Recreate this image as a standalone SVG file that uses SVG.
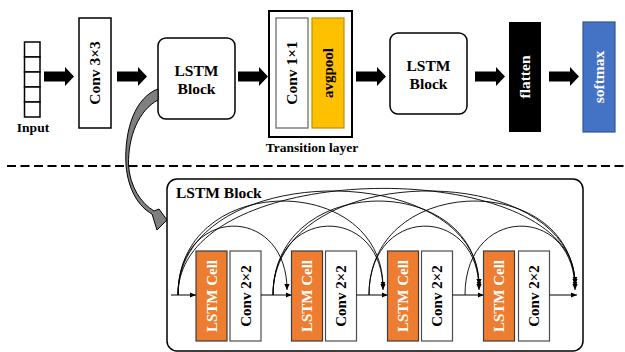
<svg xmlns="http://www.w3.org/2000/svg" width="625" height="352" viewBox="0 0 625 352">
  <style>
    .lbl { font-family: "Liberation Serif", "Times New Roman", serif; font-weight: bold; }
    .box { fill: #ffffff; stroke: #000000; stroke-width: 1.5; }
    .grey { fill: #ffffff; stroke: #6f6f6f; stroke-width: 1.3; }
    .cell { fill: #ED7D31; stroke: #3d3d3d; stroke-width: 1.2; }
    .conv { fill: #ffffff; stroke: #4d4d4d; stroke-width: 1.2; }
    .big { fill: #000000; }
    .wire { fill: none; stroke: #000000; stroke-width: 1; }
    .skip { fill: none; stroke: #000000; stroke-width: 0.9; marker-end: url(#tip); }
  </style>
  <defs>
    <marker id="tip" markerUnits="userSpaceOnUse" markerWidth="7" markerHeight="6" refX="6" refY="3" orient="auto">
      <path d="M0 0.4 L6 3 L0 5.6 Z" fill="#000000"/>
    </marker>
    <polygon id="fat" points="0,-5 21,-5 21,-9.5 30,0 21,9.5 21,5 0,5"/>
  </defs>
  <rect width="625" height="352" fill="#ffffff"/>

  <!-- top pipeline -->
  <g id="input">
    <rect class="box" x="24.5" y="42" width="15.5" height="15" stroke-width="1.2"/>
    <rect class="box" x="24.5" y="57" width="15.5" height="15" stroke-width="1.2"/>
    <rect class="box" x="24.5" y="72" width="15.5" height="15" stroke-width="1.2"/>
    <rect class="box" x="24.5" y="87" width="15.5" height="15" stroke-width="1.2"/>
    <rect class="box" x="24.5" y="102" width="15.5" height="15" stroke-width="1.2"/>
    <text class="lbl" x="33" y="132" font-size="13.5" text-anchor="middle">Input</text>
  </g>
  <g id="conv3x3">
    <rect class="box" x="79" y="18" width="32" height="110"/>
    <text class="lbl" transform="translate(95,73) rotate(-90)" dy="0.35em" font-size="15.5" text-anchor="middle">Conv 3×3</text>
  </g>
  <g id="lstm-block-1">
    <rect class="box" x="158" y="38" width="77" height="81" rx="8"/>
    <text class="lbl" x="196.5" y="76" font-size="15.5" text-anchor="middle">LSTM</text>
    <text class="lbl" x="196.5" y="94" font-size="15.5" text-anchor="middle">Block</text>
  </g>
  <g id="transition">
    <rect x="269" y="11" width="83" height="126" fill="#ffffff" stroke="#000000" stroke-width="2"/>
    <rect class="grey" x="276" y="18" width="32" height="110"/>
    <text class="lbl" transform="translate(292,73) rotate(-90)" dy="0.35em" font-size="15.5" text-anchor="middle">Conv 1×1</text>
    <rect x="312" y="18" width="32" height="110" fill="#FFC000" stroke="#BF9000" stroke-width="1.2"/>
    <text class="lbl" transform="translate(328,73) rotate(-90)" dy="0.35em" font-size="15" text-anchor="middle">avgpool</text>
    <text class="lbl" x="312" y="152" font-size="13.5" text-anchor="middle">Transition layer</text>
  </g>
  <g id="lstm-block-2">
    <rect class="box" x="390" y="33" width="77" height="81" rx="8"/>
    <text class="lbl" x="428.5" y="71" font-size="15.5" text-anchor="middle">LSTM</text>
    <text class="lbl" x="428.5" y="89" font-size="15.5" text-anchor="middle">Block</text>
  </g>
  <g id="flatten">
    <rect x="509" y="22" width="32" height="110" fill="#000000"/>
    <text class="lbl" transform="translate(525,77) rotate(-90)" dy="0.35em" font-size="15.5" text-anchor="middle" fill="#ffffff">flatten</text>
  </g>
  <g id="softmax">
    <rect x="583" y="22" width="32" height="110" fill="#4472C4" stroke="#2F5597" stroke-width="1.2"/>
    <text class="lbl" transform="translate(599,77) rotate(-90)" dy="0.35em" font-size="15.5" text-anchor="middle" fill="#ffffff">softmax</text>
  </g>

  <g id="pipeline-arrows" class="big">
    <use href="#fat" x="44" y="76.5"/>
    <use href="#fat" x="117" y="76.5"/>
    <use href="#fat" x="238" y="76.5"/>
    <use href="#fat" x="356" y="76.5"/>
    <use href="#fat" x="475" y="76.5"/>
    <use href="#fat" x="549" y="76.5"/>
  </g>

  <!-- separator -->
  <line x1="7" y1="166" x2="625" y2="166" stroke="#000000" stroke-width="2" stroke-dasharray="9 4.5"/>

  <!-- expanded block -->
  <g id="lstm-block-detail">
    <rect x="167" y="179" width="416" height="172" rx="10" fill="#ffffff" stroke="#000000" stroke-width="1.5"/>
    <text class="lbl" x="176" y="197.5" font-size="15.5">LSTM Block</text>
  </g>

  <!-- callout from the block to its expansion -->
  <g id="callout">
    <path d="M158 89 C136 97 124 128 126 165 C128 190 139 207 152 214 L157 230 L167 220 L159 209 L154 211 C141 203 130 187 128.5 165 C128 136 139 110 158 100 Z" fill="#7f7f7f" stroke="#000000" stroke-width="1"/>
  </g>

  <g id="cell-1">
    <rect class="cell" x="196" y="251" width="31" height="90"/>
    <text class="lbl" transform="translate(211.5,296) rotate(-90)" dy="0.35em" font-size="15" text-anchor="middle" fill="#ffffff">LSTM Cell</text>
    <rect class="conv" x="230" y="251" width="31" height="90"/>
    <text class="lbl" transform="translate(245.5,296) rotate(-90)" dy="0.35em" font-size="15" text-anchor="middle">Conv 2×2</text>
  </g>
  <g id="cell-2">
    <rect class="cell" x="291.5" y="251" width="31" height="90"/>
    <text class="lbl" transform="translate(307,296) rotate(-90)" dy="0.35em" font-size="15" text-anchor="middle" fill="#ffffff">LSTM Cell</text>
    <rect class="conv" x="325.5" y="251" width="31" height="90"/>
    <text class="lbl" transform="translate(341,296) rotate(-90)" dy="0.35em" font-size="15" text-anchor="middle">Conv 2×2</text>
  </g>
  <g id="cell-3">
    <rect class="cell" x="387.5" y="251" width="31" height="90"/>
    <text class="lbl" transform="translate(403,296) rotate(-90)" dy="0.35em" font-size="15" text-anchor="middle" fill="#ffffff">LSTM Cell</text>
    <rect class="conv" x="421.5" y="251" width="31" height="90"/>
    <text class="lbl" transform="translate(437,296) rotate(-90)" dy="0.35em" font-size="15" text-anchor="middle">Conv 2×2</text>
  </g>
  <g id="cell-4">
    <rect class="cell" x="483.5" y="251" width="31" height="90"/>
    <text class="lbl" transform="translate(499,296) rotate(-90)" dy="0.35em" font-size="15" text-anchor="middle" fill="#ffffff">LSTM Cell</text>
    <rect class="conv" x="518.5" y="251" width="31" height="90"/>
    <text class="lbl" transform="translate(534,296) rotate(-90)" dy="0.35em" font-size="15" text-anchor="middle">Conv 2×2</text>
  </g>

  <g id="connectors">
    <!-- main path -->
    <path class="wire" d="M171 295 H196" marker-end="url(#tip)"/>
    <path class="wire" d="M261 295 H291.5" marker-end="url(#tip)"/>
    <path class="wire" d="M356.5 295 H387.5" marker-end="url(#tip)"/>
    <path class="wire" d="M452.5 295 H483.5" marker-end="url(#tip)"/>
    <path class="wire" d="M549.5 295 H577" marker-end="url(#tip)"/>
    <!-- dense skip arcs: junctions 178, 273, 369, 465; targets 287, 383, 479, 575 -->
    <path class="skip" d="M178 295 C178 204 287 204 287 290"/>
    <path class="skip" d="M178 295 C178 171 383 171 383 287.5"/>
    <path class="skip" d="M178 295 C178 158 479 158 479 285"/>
    <path class="skip" d="M178 295 C178 155 575 155 575 282.5"/>
    <path class="skip" d="M273 295 C273 204 383 204 383 290"/>
    <path class="skip" d="M273 295 C273 171 479 171 479 287.5"/>
    <path class="skip" d="M273 295 C273 158 575 158 575 285"/>
    <path class="skip" d="M369 295 C369 204 479 204 479 290"/>
    <path class="skip" d="M369 295 C369 171 575 171 575 287.5"/>
    <path class="skip" d="M465 295 C465 204 575 204 575 290"/>
  </g>
</svg>
